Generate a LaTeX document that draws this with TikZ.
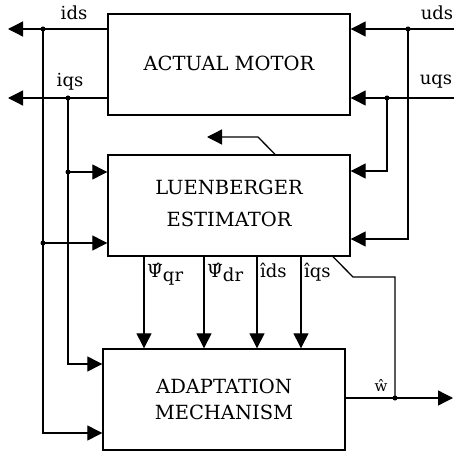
\documentclass[tikz,border=0pt]{standalone}
\usepackage{fontspec}
\setmainfont{DejaVu Serif}
\usepackage{tikz}
\usetikzlibrary{arrows.meta}
\tikzset {
  block style/.style = {
    draw,
    line width=1.4pt,
    align=center,
    minimum width=242pt,
    minimum height=101pt,
    font=\fontsize{19.5}{26}\selectfont
  },
  signal/.style = {
    line width=1.3pt,
    -{Triangle[length=15pt,width=15pt]}
  },
  wire/.style = {line width=1.3pt},
  junction/.style = {circle, fill, inner sep=0pt, minimum size=5pt},
  label style/.style = {font=\fontsize{18}{21}\selectfont, inner sep=1pt}
}

\begin{document}
\begin{tikzpicture}[x=1pt, y=-1pt]
\useasboundingbox (0,0) rectangle (454,454);

% --- Blocks ---
\node[block style] (motor) at (229, 64.5) {\raisebox{3pt}{ACTUAL MOTOR}};
\node[block style] (estim) at (229,205.5) {\raisebox{4pt}{\begin{tabular}{@{}c@{}}LUENBERGER\\[6pt]ESTIMATOR\end{tabular}}};
\node[block style] (adapt) at (224,399.5) {ADAPTATION\\MECHANISM};

\coordinate (ids tip) at (8, 29);
\coordinate (iqs tip) at (8, 98);
\coordinate (uds in)  at (454, 29);
\coordinate (uqs in)  at (454, 98);
\coordinate (ids dot) at (43, 29);
\coordinate (iqs dot) at (68, 98);
\coordinate (uds dot) at (408, 29);
\coordinate (uqs dot) at (387, 98);
\coordinate (w dot)   at (395,398);
\coordinate (w tip)   at (453,398);

% --- Motor in and out ---
\draw[signal] (motor.west |- ids tip) -- (ids tip);
\draw[signal] (motor.west |- iqs tip) -- (iqs tip);
\draw[signal] (uds in) -- (motor.east |- uds in);
\draw[signal] (uqs in) -- (motor.east |- uqs in);

\node[label style] (ids) at (74,13) {ids};
\node[label style] (iqs) at (70,82) {iqs};
\node[label style] (uds) at (437,13) {uds};
\node[label style] (uqs) at (436,82) {uqs};

% --- Feedback of measured currents ---
\draw[signal] (iqs dot) |- (adapt.west |- 0,364);
\draw[signal] (iqs dot |- 0,172) -- (estim.west |- 0,172);
\draw[signal] (ids dot) |- (adapt.west |- 0,433);
\draw[signal] (ids dot |- 0,243) -- (estim.west |- 0,243);

% --- Voltages to estimator ---
\draw[signal] (uqs dot) |- (estim.east |- 0,171);
\draw[signal] (uds dot) |- (estim.east |- 0,239);

\node[junction] (j1) at (ids dot) {};
\node[junction] (j2) at (iqs dot) {};
\node[junction] (j3) at (uds dot) {};
\node[junction] (j4) at (uqs dot) {};
\node[junction] (j5) at (68,172) {};
\node[junction] (j6) at (43,243) {};

% --- Estimates ---
\foreach \x in {144,204,257,301}
  \draw[signal] (estim.south -| \x,0) -- (adapt.north -| \x,0);

\node[label style, anchor=north west] (psiqr) at (146,262) {\^{Ψ}\raisebox{-4pt}{qr}};
\node[label style, anchor=north west] (psidr) at (206,262) {\^{Ψ}\raisebox{-4pt}{dr}};
\node[label style, anchor=north west] (idsh)  at (259,262) {\^{\i}ds};
\node[label style, anchor=north west] (iqsh)  at (303,262) {\^{\i}qs};

% --- Speed estimate ---
\draw[signal] (estim.north -| 275,0) -- (258,137) -- (207,137);
\draw[wire] (estim.south -| 333,0) -- (353,277) -- (395,277) -- (w dot);
\draw[signal] (adapt.east |- w dot) -- (w tip);
\node[junction] (j7) at (w dot) {};
\node[label style, font=\fontsize{15}{17}\selectfont] (w) at (381,385) {\^{w}};

\end{tikzpicture}
\end{document}
